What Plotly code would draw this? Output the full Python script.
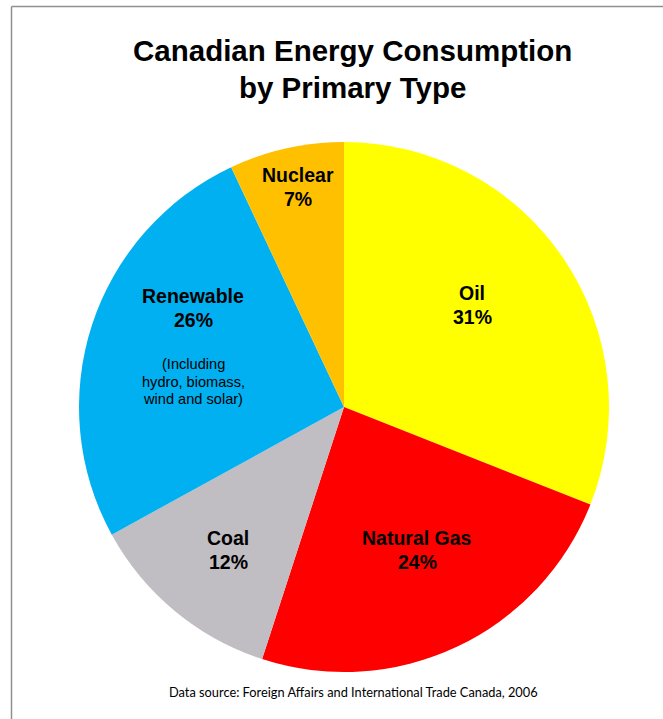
import plotly.graph_objects as go

# Data
categories = ["Oil", "Natural Gas", "Coal", "Renewable", "Nuclear"]
shares = [31, 24, 12, 26, 7]
colors = ["#FFFF00", "#FF0000", "#C0BDC3", "#00B0F0", "#FFC000"]
title_lines = ["Canadian Energy Consumption", "by Primary Type"]
renewable_note = ["(Including", "hydro, biomass,", "wind and solar)"]
source_text = "Data source: Foreign Affairs and International Trade Canada, 2006"

W, H = 663, 719

def px(x, y):
    return x / W, 1 - y / H

# pie placement (pixels): center (344, 407), radius 265
cx, cy, r = 344, 407, 265
fig = go.Figure(go.Pie(
    labels=categories,
    values=shares,
    sort=False,
    direction="clockwise",
    rotation=0,
    marker=dict(colors=colors, line=dict(width=0)),
    textinfo="none",
    hoverinfo="label+percent",
    showlegend=False,
    domain=dict(x=[(cx - r) / W, (cx + r) / W], y=[1 - (cy + r) / H, 1 - (cy - r) / H]),
))

annotations = []

def add_text(x, y, text, size, family="Liberation Sans, Arial"):
    xp, yp = px(x, y)
    annotations.append(dict(
        x=xp, y=yp, xref="paper", yref="paper", xanchor="center", yanchor="middle",
        text=text, showarrow=False, font=dict(family=family, size=size, color="black"),
    ))

label_pos = {
    "Oil": (472, 293),
    "Natural Gas": (417, 538),
    "Coal": (228, 538),
    "Renewable": (193, 296),
    "Nuclear": (298, 175),
}
for cat, val in zip(categories, shares):
    x, y = label_pos[cat]
    add_text(x, y, f"<b>{cat}</b>", 19.5)
    add_text(x, y + 24, f"<b>{val}%</b>", 19.5)

for i, line in enumerate(renewable_note):
    add_text(193, 364 + 17.5 * i, line, 14.6)

for i, line in enumerate(title_lines):
    add_text(352, 50 + 37 * i, f"<b>{line}</b>", 29.5)

add_text(353, 692, source_text, 12.8, family="Lato, Carlito, Calibri")

shapes = [
    dict(type="line", xref="paper", yref="paper", x0=11.5 / W, x1=11.5 / W, y0=0, y1=1 - 6.5 / H,
         line=dict(color="#8F8F8F", width=1.5)),
    dict(type="line", xref="paper", yref="paper", x0=11.5 / W, x1=1, y0=1 - 6.5 / H, y1=1 - 6.5 / H,
         line=dict(color="#8F8F8F", width=1.5)),
]

fig.update_layout(
    width=W, height=H,
    margin=dict(l=0, r=0, t=0, b=0),
    paper_bgcolor="white", plot_bgcolor="white",
    annotations=annotations, shapes=shapes,
)

fig.write_html("out.html", config={"displayModeBar": False},
               post_script="document.body.style.margin='0px';document.body.style.overflow='hidden';")
